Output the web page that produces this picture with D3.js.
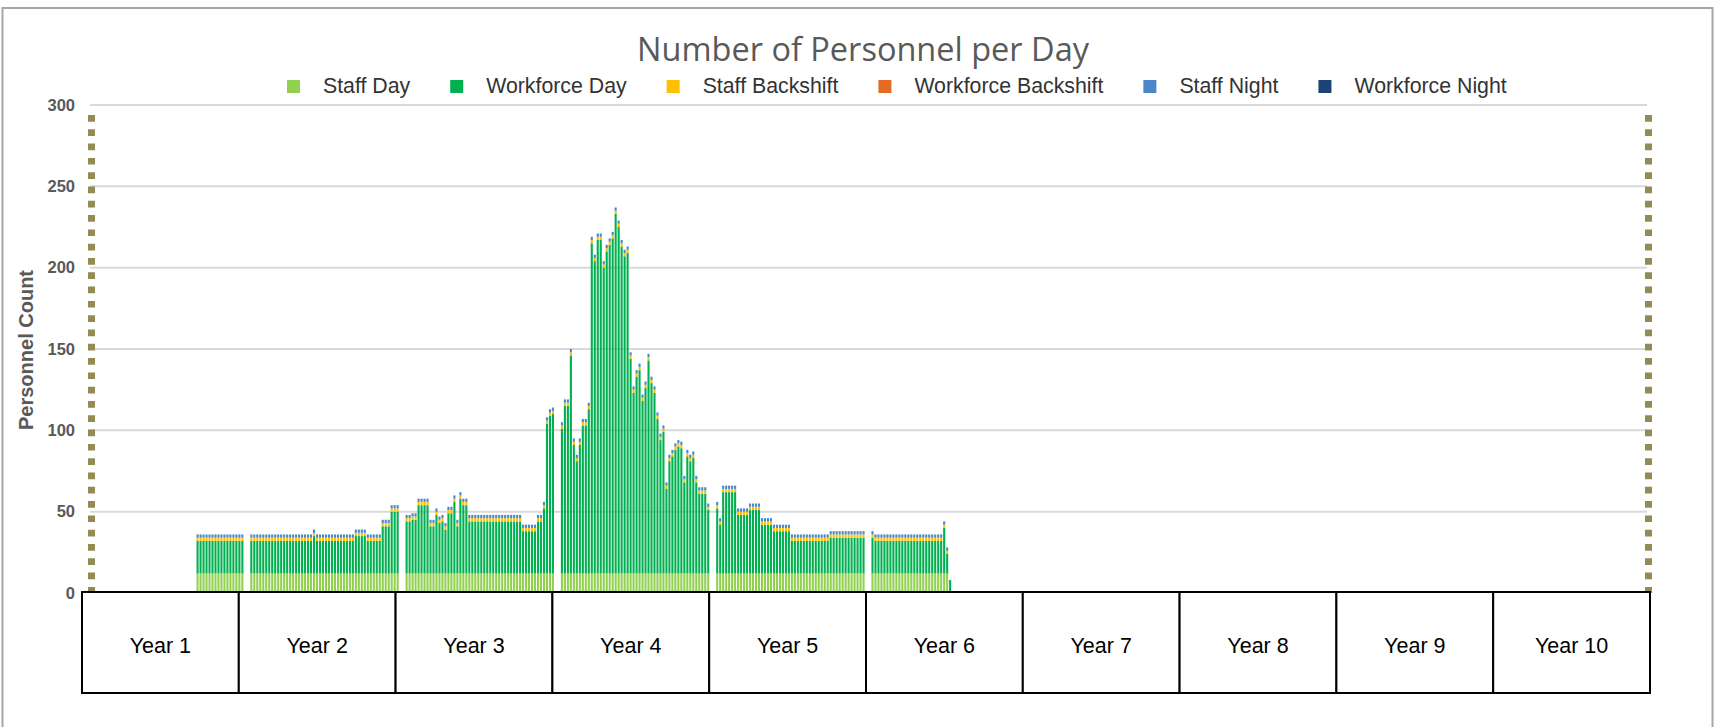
<!DOCTYPE html>
<html>
<head>
<meta charset="utf-8">
<script src="https://cdn.jsdelivr.net/npm/d3@7"></script>
<style>
body { margin: 0; background: #fff; }
svg { display: block; }
</style>
</head>
<body>
<div id="chart"></div>
<script>
// weekly values, first entry = week 35 of the 10 year span
var firstWeek = 35;
var totalWeeks = 522;

var years = ['Year 1', 'Year 2', 'Year 3', 'Year 4', 'Year 5', 'Year 6', 'Year 7', 'Year 8', 'Year 9', 'Year 10'];
var yTicks = [0, 50, 100, 150, 200, 250, 300];

var seriesNames = ['Staff Day', 'Workforce Day', 'Staff Backshift', 'Workforce Backshift', 'Staff Night', 'Workforce Night'];
var seriesColors = ['#92d050', '#00b050', '#ffc000', '#e36c22', '#4a86c8', '#1c4473'];

var staffDay = [
  12,12,12,12,12,12,12,12,12,12,12,12,12,12,12,12,
  0,0,
  12,12,12,12,12,12,12,12,12,12, 12,12,12,12,12,12,12,12,12,12, 12,12,12,12,12,12,12,12,12,12, 12,12,12,12,12,12,12,12,12,12, 12,12,12,12,12,12,12,12,12,12,
  0,0,
  12,12,12,12,12,12,12,12,12,12, 12,12,12,12,12,12,12,12,12,12, 12,12,12,12,12,12,12,12,12,12, 12,12,12,12,12,12,12,12,12,12, 12,12,12,12,12,12,12,12,12,12,
  0,0,
  12,12,12,12,12,12,12,12,12,12, 12,12,12,12,12,12,12,12,12,12, 12,12,12,12,12,12,12,12,12,12, 12,12,12,12,12,12,12,12,12,12, 12,12,12,12,12,12,12,12,12,12,
  0,0,
  12,12,12,12,12,12,12,12,12,12, 12,12,12,12,12,12,12,12,12,12, 12,12,12,12,12,12,12,12,12,12, 12,12,12,12,12,12,12,12,12,12, 12,12,12,12,12,12,12,12,12,12,
  0,0,
  12,12,12,12,12,12,12,12,12,12, 12,12,12,12,12,12,12,12,12,12, 12,12,12,12,12,12,0
];

var workforceDay = [
  20,20,20,20,20,20,20,20,20,20,20,20,20,20,20,20,
  0,0,
  20,20,20,20,20,20,20,20,20,20, 20,20,20,20,20,20,20,20,20,20, 20,23,20,20,20,20,20,20,20,20, 20,20,20,20,20,23,23,23,23,20, 20,20,20,20,29,29,29,38,38,38,
  0,0,
  32,32,33,33,42,42,42,42,29,29, 36,31,32,27,37,37,44,29,46,42, 42,32,32,32,32,32,32,32,32,32, 32,32,32,32,32,32,32,32,32,26, 26,26,26,26,32,32,40,92,97,98,
  0,0,
  89,103,103,134,79,69,79,91,91,101, 203,192,205,205,188,198,202,206,221,213, 201,195,197,132,111,121,125,106,114,131, 117,111,95,82,87,52,69,72,76,78, 77,56,72,69,71,56,49,49,49,39,
  0,0,
  40,30,50,50,50,50,50,36,36,36, 36,39,39,39,39,30,30,30,30,26, 26,26,26,26,26,20,20,20,20,20, 20,20,20,20,20,20,20,20,22,22, 22,22,22,22,22,22,22,22,22,22,
  0,0,
  22,20,20,20,20,20,20,20,20,20, 20,20,20,20,20,20,20,20,20,20, 20,20,20,20,28,12,8
];

var staffBackshift = [
  2,2,2,2,2,2,2,2,2,2,2,2,2,2,2,2,
  0,0,
  2,2,2,2,2,2,2,2,2,2, 2,2,2,2,2,2,2,2,2,2, 2,2,2,2,2,2,2,2,2,2, 2,2,2,2,2,2,2,2,2,2, 2,2,2,2,2,2,2,2,2,2,
  0,0,
  2,2,2,2,2,2,2,2,2,2, 2,2,2,2,2,2,2,2,2,2, 2,2,2,2,2,2,2,2,2,2, 2,2,2,2,2,2,2,2,2,2, 2,2,2,2,2,2,2,2,2,2,
  0,0,
  2,2,2,2,2,2,2,2,2,2, 2,2,2,2,2,2,2,2,2,2, 2,2,2,2,2,2,2,2,2,2, 2,2,2,2,2,2,2,2,2,2, 2,2,2,2,2,2,2,2,2,2,
  0,0,
  2,2,2,2,2,2,2,2,2,2, 2,2,2,2,2,2,2,2,2,2, 2,2,2,2,2,2,2,2,2,2, 2,2,2,2,2,2,2,2,2,2, 2,2,2,2,2,2,2,2,2,2,
  0,0,
  2,2,2,2,2,2,2,2,2,2, 2,2,2,2,2,2,2,2,2,2, 2,2,2,2,2,2,0
];

var workforceBackshift = [
  0,0,0,0,0,0,0,0,0,0,0,0,0,0,0,0,
  0,0,
  0,0,0,0,0,0,0,0,0,0, 0,0,0,0,0,0,0,0,0,0, 0,0,0,0,0,0,0,0,0,0, 0,0,0,0,0,0,0,0,0,0, 0,0,0,0,0,0,0,0,0,0,
  0,0,
  0,0,0,0,0,0,0,0,0,0, 0,0,0,0,0,0,0,0,0,0, 0,0,0,0,0,0,0,0,0,0, 0,0,0,0,0,0,0,0,0,0, 0,0,0,0,0,0,0,0,0,0,
  0,0,
  0,0,0,0,0,0,0,0,0,0, 0,0,0,0,0,0,0,0,0,0, 0,0,0,0,0,0,0,0,0,0, 0,0,0,0,0,0,0,0,0,0, 0,0,0,0,0,0,0,0,0,0,
  0,0,
  0,0,0,0,0,0,0,0,0,0, 0,0,0,0,0,0,0,0,0,0, 0,0,0,0,0,0,0,0,0,0, 0,0,0,0,0,0,0,0,0,0, 0,0,0,0,0,0,0,0,0,0,
  0,0,
  0,0,0,0,0,0,0,0,0,0, 0,0,0,0,0,0,0,0,0,0, 0,0,0,0,0,0,0
];

var staffNight = [
  2,2,2,2,2,2,2,2,2,2,2,2,2,2,2,2,
  0,0,
  2,2,2,2,2,2,2,2,2,2, 2,2,2,2,2,2,2,2,2,2, 2,2,2,2,2,2,2,2,2,2, 2,2,2,2,2,2,2,2,2,2, 2,2,2,2,2,2,2,2,2,2,
  0,0,
  2,2,2,2,2,2,2,2,2,2, 2,2,2,2,2,2,2,2,2,2, 2,2,2,2,2,2,2,2,2,2, 2,2,2,2,2,2,2,2,2,2, 2,2,2,2,2,2,2,2,2,2,
  0,0,
  2,2,2,2,2,2,2,2,2,2, 2,2,2,2,2,2,2,2,2,2, 2,2,2,2,2,2,2,2,2,2, 2,2,2,2,2,2,2,2,2,2, 2,2,2,2,2,2,2,2,2,2,
  0,0,
  2,2,2,2,2,2,2,2,2,2, 2,2,2,2,2,2,2,2,2,2, 2,2,2,2,2,2,2,2,2,2, 2,2,2,2,2,2,2,2,2,2, 2,2,2,2,2,2,2,2,2,2,
  0,0,
  2,2,2,2,2,2,2,2,2,2, 2,2,2,2,2,2,2,2,2,2, 2,2,2,2,2,2,0
];

var workforceNight = [
  0,0,0,0,0,0,0,0,0,0,0,0,0,0,0,0,
  0,0,
  0,0,0,0,0,0,0,0,0,0, 0,0,0,0,0,0,0,0,0,0, 0,0,0,0,0,0,0,0,0,0, 0,0,0,0,0,0,0,0,0,0, 0,0,0,0,0,0,0,0,0,0,
  0,0,
  0,0,0,0,0,0,0,0,0,0, 0,0,0,0,0,0,0,0,0,0, 0,0,0,0,0,0,0,0,0,0, 0,0,0,0,0,0,0,0,0,0, 0,0,0,0,0,0,0,0,0,0,
  0,0,
  0,0,0,0,0,0,0,0,0,0, 0,0,0,0,0,0,0,0,0,0, 0,0,0,0,0,0,0,0,0,0, 0,0,0,0,0,0,0,0,0,0, 0,0,0,0,0,0,0,0,0,0,
  0,0,
  0,0,0,0,0,0,0,0,0,0, 0,0,0,0,0,0,0,0,0,0, 0,0,0,0,0,0,0,0,0,0, 0,0,0,0,0,0,0,0,0,0, 0,0,0,0,0,0,0,0,0,0,
  0,0,
  0,0,0,0,0,0,0,0,0,0, 0,0,0,0,0,0,0,0,0,0, 0,0,0,0,0,0,0
];

var width = 1715, height = 727;
var plotLeft = 92, plotRight = 1650, plotTop = 105, plotBottom = 593;

var svg = d3.select('#chart')
    .append('svg')
    .attr('width', width)
    .attr('height', height);

// outer frame
svg.append('rect')
    .attr('x', 2.5).attr('y', 8)
    .attr('width', 1710).attr('height', 760)
    .attr('fill', 'none')
    .attr('stroke', '#a6a6a6')
    .attr('stroke-width', 2);

var rows = staffDay.map(function(d, i) {
    return {
        week: firstWeek + i,
        'Staff Day': staffDay[i],
        'Workforce Day': workforceDay[i],
        'Staff Backshift': staffBackshift[i],
        'Workforce Backshift': workforceBackshift[i],
        'Staff Night': staffNight[i],
        'Workforce Night': workforceNight[i]
    };
});

var xScale = d3.scaleBand()
    .domain(d3.range(totalWeeks))
    .range([plotLeft, plotRight])
    .paddingInner(0.3)
    .paddingOuter(0);

var yScale = d3.scaleLinear()
    .domain([0, 300])
    .range([plotBottom, plotTop]);

var yearScale = d3.scaleBand()
    .domain(years)
    .range([82, 1650]);

var color = d3.scaleOrdinal().domain(seriesNames).range(seriesColors);

// gridlines
svg.append('g')
    .selectAll('line')
    .data(yTicks.slice(1))
    .enter()
    .append('line')
    .attr('x1', 90).attr('x2', 1647)
    .attr('y1', function(d) { return yScale(d); })
    .attr('y2', function(d) { return yScale(d); })
    .attr('stroke', '#d9d9d9')
    .attr('stroke-width', 2);

// y axis labels
var yAxis = d3.axisLeft(yScale).tickValues(yTicks).tickSize(0).tickPadding(0);
var yAxisG = svg.append('g')
    .attr('transform', 'translate(75,0)')
    .call(yAxis);
yAxisG.select('.domain').remove();
yAxisG.selectAll('text')
    .attr('font-family', 'Liberation Sans, Arial, sans-serif')
    .attr('font-weight', 'bold')
    .attr('font-size', 16.5)
    .attr('fill', '#595959');

svg.append('text')
    .attr('transform', 'translate(33,350) rotate(-90)')
    .attr('text-anchor', 'middle')
    .attr('font-family', 'Liberation Sans, Arial, sans-serif')
    .attr('font-weight', 'bold')
    .attr('font-size', 20)
    .attr('fill', '#595959')
    .text('Personnel Count');

// stacked weekly bars
var stack = d3.stack().keys(seriesNames);
var layers = stack(rows);

svg.append('g')
    .selectAll('g')
    .data(layers)
    .enter()
    .append('g')
    .attr('fill', function(d) { return color(d.key); })
    .selectAll('rect')
    .data(function(d) { return d.filter(function(p) { return p[1] > p[0]; }); })
    .enter()
    .append('rect')
    .attr('x', function(d) { return xScale(d.data.week); })
    .attr('width', xScale.bandwidth())
    .attr('y', function(d) { return yScale(d[1]); })
    .attr('height', function(d) { return yScale(d[0]) - yScale(d[1]); });

// dotted side lines
[plotLeft - 0.5, plotRight - 1.5].forEach(function(x) {
    svg.append('line')
        .attr('x1', x).attr('x2', x)
        .attr('y1', 115).attr('y2', plotBottom)
        .attr('stroke', '#948a54')
        .attr('stroke-width', 7)
        .attr('stroke-dasharray', '6.7 7.6');
});

// year boxes
var yearG = svg.append('g')
    .selectAll('g')
    .data(years)
    .enter()
    .append('g');

yearG.append('rect')
    .attr('x', function(d) { return yearScale(d); })
    .attr('y', 592)
    .attr('width', yearScale.bandwidth())
    .attr('height', 101)
    .attr('fill', '#fff')
    .attr('stroke', '#000')
    .attr('stroke-width', 2);

yearG.append('text')
    .attr('x', function(d) { return yearScale(d) + yearScale.bandwidth() / 2; })
    .attr('y', 645)
    .attr('dy', '0.35em')
    .attr('text-anchor', 'middle')
    .attr('font-family', 'Liberation Sans, Arial, sans-serif')
    .attr('font-size', 21.5)
    .attr('fill', '#000')
    .text(function(d) { return d; });

// title
svg.append('text')
    .attr('x', 863)
    .attr('y', 61)
    .attr('text-anchor', 'middle')
    .attr('font-family', 'Open Sans, sans-serif')
    .attr('font-size', 32.5)
    .attr('fill', '#595959')
    .text('Number of Personnel per Day');

// legend
var legend = svg.append('g');
var lx = 287;
seriesNames.forEach(function(name) {
    legend.append('rect')
        .attr('x', lx).attr('y', 80)
        .attr('width', 13).attr('height', 13)
        .attr('fill', color(name));
    var t = legend.append('text')
        .attr('x', lx + 36)
        .attr('y', 93)
        .attr('font-family', 'Liberation Sans, Arial, sans-serif')
        .attr('font-size', 21.3)
        .attr('fill', '#333')
        .text(name);
    lx = lx + 36 + t.node().getComputedTextLength() + 40;
});
</script>
</body>
</html>
